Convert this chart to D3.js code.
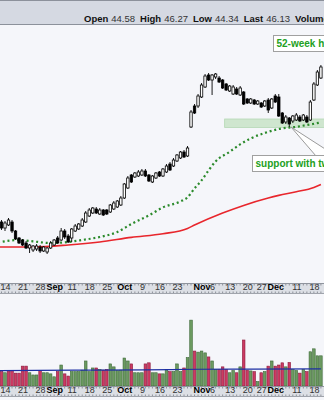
<!DOCTYPE html>
<html><head><meta charset="utf-8">
<script src="https://cdn.jsdelivr.net/npm/d3@7"></script>
<style>
html,body{margin:0;padding:0;background:#f5f6fa;overflow:hidden}
svg{display:block}
text{font-family:"Liberation Sans",Arial,sans-serif}
</style></head><body>
<svg id="c" width="324" height="400"></svg>
<script>
// ---- data ----
const dates = ["Aug 10","Aug 11","Aug 14","Aug 15","Aug 16","Aug 17","Aug 18","Aug 21","Aug 22","Aug 23","Aug 24","Aug 25",
"Aug 28","Aug 29","Aug 30","Aug 31","Sep 1","Sep 5","Sep 6","Sep 7","Sep 8","Sep 11","Sep 12","Sep 13","Sep 14","Sep 15",
"Sep 18","Sep 19","Sep 20","Sep 21","Sep 22","Sep 25","Sep 26","Sep 27","Sep 28","Sep 29","Oct 2","Oct 3","Oct 4","Oct 5","Oct 6",
"Oct 9","Oct 10","Oct 11","Oct 12","Oct 13","Oct 16","Oct 17","Oct 18","Oct 19","Oct 20","Oct 23","Oct 24","Oct 25","Oct 26","Oct 27",
"Oct 30","Oct 31","Nov 1","Nov 2","Nov 3","Nov 6","Nov 7","Nov 8","Nov 9","Nov 10","Nov 13","Nov 14","Nov 15","Nov 16","Nov 17",
"Nov 20","Nov 21","Nov 22","Nov 24","Nov 27","Nov 28","Nov 29","Nov 30","Dec 1","Dec 4","Dec 5","Dec 6","Dec 7","Dec 8",
"Dec 11","Dec 12","Dec 13","Dec 14","Dec 15","Dec 18","Dec 19","Dec 20"];

const opens = [38.37,38.47,38.17,38.32,38.47,38.02,37.67,37.57,37.42,37.17,37.07,37.12,37.22,37.02,36.97,37.17,37.32,37.67,37.57,38.02,
37.77,37.67,38.02,38.12,38.27,38.47,38.77,38.92,39.12,38.87,39.07,39.07,38.97,39.12,39.22,39.32,39.67,40.17,40.82,40.72,
40.77,40.82,41.02,40.82,40.47,40.67,40.97,40.77,40.97,41.37,41.27,41.52,41.67,41.97,41.77,43.22,44.27,44.27,44.72,45.22,
45.82,45.57,45.72,45.67,45.57,45.37,45.02,44.87,45.12,44.82,44.97,44.62,44.42,44.57,44.37,44.42,44.27,44.57,44.17,44.77,
44.72,43.92,43.47,43.67,43.52,43.57,43.72,43.57,43.72,43.57,44.57,45.32,45.67];
const highs = [38.47,38.57,38.52,38.67,38.57,38.07,37.72,37.62,37.52,37.37,37.32,37.37,37.32,37.27,37.22,37.52,37.62,37.77,38.17,38.12,
37.87,38.17,38.37,38.42,38.67,39.02,39.17,39.22,39.22,39.17,39.12,39.12,39.37,39.52,39.57,39.77,40.42,40.77,40.87,40.97,
41.07,41.12,41.12,40.87,40.82,40.97,41.02,41.17,41.37,41.47,41.67,41.87,42.02,42.07,42.27,44.07,44.37,44.87,45.42,45.87,
45.92,45.87,45.92,45.77,45.62,45.42,45.32,45.32,45.22,45.27,45.02,44.67,44.67,44.62,44.57,44.47,44.57,44.67,44.67,44.87,
44.87,43.97,43.82,43.72,43.82,43.92,43.82,43.87,43.82,44.57,45.47,46.07,46.32];
const lows = [38.02,38.07,38.02,38.27,37.92,37.57,37.37,37.27,37.12,36.92,36.97,37.02,36.92,36.97,36.87,37.12,37.27,37.37,37.52,37.62,
37.42,37.47,37.97,38.07,38.22,38.42,38.72,38.87,38.87,38.82,38.77,38.82,38.92,39.07,39.17,39.27,39.62,40.12,40.42,40.67,
40.72,40.77,40.72,40.47,40.42,40.62,40.72,40.72,40.92,41.02,41.22,41.47,41.62,41.67,41.72,43.17,43.87,44.17,44.67,45.17,
45.52,44.82,45.62,45.42,45.12,45.02,44.97,44.82,44.82,44.77,44.32,44.37,44.37,44.32,44.32,44.17,44.22,43.92,44.12,44.42,
43.72,43.37,43.37,43.22,43.42,43.52,43.47,43.52,43.42,43.52,44.52,45.27,45.62];
const closes = [38.12,38.17,38.42,38.57,38.02,37.62,37.42,37.32,37.17,37.32,37.27,37.27,37.02,37.22,37.17,37.42,37.57,37.42,38.02,37.72,
37.47,38.12,38.27,38.37,38.57,38.92,39.07,39.17,38.92,39.07,38.82,38.87,39.32,39.42,39.52,39.67,40.37,40.67,40.47,40.92,
40.97,41.02,40.77,40.52,40.77,40.92,40.77,41.12,41.27,41.07,41.57,41.82,41.97,41.72,42.17,43.97,43.92,44.77,45.32,45.77,
45.57,45.82,45.87,45.47,45.17,45.07,45.27,45.22,44.87,45.17,44.37,44.42,44.62,44.37,44.52,44.22,44.52,44.07,44.62,44.47,
43.77,43.42,43.72,43.37,43.77,43.82,43.52,43.82,43.47,44.47,45.37,45.97,46.22];
const volumes = [3.8,3.9,3.6,4.2,4.2,3.5,3.5,5.4,5.4,3.6,3.0,3.0,4.2,3.6,3.6,3.3,2.5,3.9,5.7,3.3,
2.7,3.9,3.9,3.9,4.3,6.8,3.9,4.9,4.9,4.5,4.3,4.5,6.0,5.2,4.2,4.3,7.6,6.8,6.0,3.6,
3.6,3.6,6.0,6.3,3.6,3.6,3.3,3.3,4.5,3.9,3.9,6.0,3.9,4.9,7.7,17.9,9.5,9.2,9.5,9.0,
7.9,6.8,4.5,4.5,5.2,4.5,3.6,4.2,3.6,5.2,12.5,4.3,4.1,3.9,1.2,3.6,3.9,5.4,6.8,5.4,
5.7,6.3,5.2,6.4,4.5,4.2,3.5,4.5,3.9,9.3,10.1,8.2,8.2];
const volDir = ["r","r","g","r","r","r","r","r","r","g","g","g","r","g","g","g","g","r","g","r",
"r","g","g","g","g","g","g","g","r","g","r","r","g","g","g","g","g","g","r","g",
"g","g","r","r","g","g","r","g","g","r","g","g","g","r","g","g","r","g","g","g",
"r","g","g","r","r","r","g","g","r","g","r","r","g","r","g","r","g","r","g","r",
"r","r","g","r","g","g","r","g","r","g","g","g","g"];

// moving averages (read at selected dates)
const ma50Dates = ["Aug 10","Aug 18","Aug 24","Aug 31","Sep 8","Sep 14","Sep 21","Sep 28","Oct 4","Oct 11","Oct 17","Oct 24","Oct 26","Oct 30","Nov 1","Nov 3","Nov 7","Nov 13","Nov 16","Nov 21","Nov 28","Dec 4","Dec 11","Dec 15","Dec 20"];
const ma50 = [37.45,37.57,37.50,37.42,37.47,37.57,37.72,37.97,38.37,38.80,39.20,39.50,39.70,40.15,40.55,41.05,41.50,41.98,42.35,42.65,42.92,43.12,43.23,43.35,43.45];
const ma200Dates = ["Aug 10","Aug 24","Sep 8","Sep 21","Oct 4","Oct 17","Oct 26","Oct 30","Nov 9","Nov 17","Nov 29","Dec 4","Dec 11","Dec 18","Dec 20"];
const ma200 = [37.22,37.22,37.32,37.47,37.70,37.88,38.15,38.32,38.92,39.30,39.67,39.80,39.98,40.20,40.35];
const volMaDates = ["Aug 10","Sep 12","Oct 10","Oct 31","Nov 21","Dec 20"];
const volMa = [4.2,4.3,4.4,4.55,4.6,4.65];

const tickDates = ["Aug 14","Aug 21","Aug 28","Sep 1","Sep 11","Sep 18","Sep 25","Oct 2","Oct 9","Oct 16","Oct 23","Nov 1","Nov 6","Nov 13","Nov 20","Nov 27","Dec 1","Dec 11","Dec 18"];
const tickText = ["14","21","28","Sep","11","18","25","Oct","9","16","23","Nov","6","13","20","27","Dec","11","18"];
const monthTicks = ["Sep","Oct","Nov","Dec"];

const header = [["Open","44.58"],["High","46.27"],["Low","44.34"],["Last","46.13"],["Volume","9.2M"]];
const supportRange = [43.2, 43.62];
const supportStart = "Nov 13";

// ---- layout ----
const W = 324, H = 400;
const P = {top:25, bottom:283};
const V = {top:294, bottom:386};
const svg = d3.select("#c");

const x = d3.scalePoint().domain(dates).range([-2.02, 320.9]);
const y = d3.scaleLinear().domain([35.42, 48.32]).range([P.bottom, P.top]);
const yv = d3.scaleLinear().domain([0, 25]).range([V.bottom, V.top]);

// backgrounds
svg.append("rect").attr("x",0).attr("y",0).attr("width",W).attr("height",H).attr("fill","#f5f6fa");
svg.append("rect").attr("x",0).attr("y",0).attr("width",W).attr("height",24).attr("fill","#d5d9e2");
svg.append("line").attr("x1",0).attr("x2",W).attr("y1",0.5).attr("y2",0.5).attr("stroke","#8c919b");
svg.append("line").attr("x1",0).attr("x2",W).attr("y1",24.5).attr("y2",24.5).attr("stroke","#8c919b");

// header text
const ht = svg.append("text").attr("x",84).attr("y",21.5).attr("font-size",9.5).attr("fill","#111");
header.forEach((h,i)=>{
  ht.append("tspan").attr("dx", i===0?0:5).attr("font-weight","bold").text(h[0]);
  ht.append("tspan").attr("dx",3).attr("fill","#333").text(h[1]);
});

// clip paths
const defs = svg.append("defs");
defs.append("clipPath").attr("id","pc").append("rect").attr("x",0).attr("y",P.top).attr("width",W).attr("height",P.bottom-P.top);
defs.append("clipPath").attr("id","vc").append("rect").attr("x",0).attr("y",V.top).attr("width",W).attr("height",V.bottom-V.top);

const pg = svg.append("g").attr("clip-path","url(#pc)");

// support zone
pg.append("rect").attr("x", x(supportStart)-5).attr("y", y(supportRange[1]))
  .attr("width", W).attr("height", y(supportRange[0]) - y(supportRange[1]))
  .attr("fill","#cfe6cf").attr("stroke","#b4d8b4").attr("stroke-width",0.8);

// moving averages
const line = d3.line().curve(d3.curveMonotoneX);
pg.append("path").attr("d", line(ma200Dates.map((d,i)=>[x(d), y(ma200[i])])))
  .attr("fill","none").attr("stroke","#e8262c").attr("stroke-width",1.6);
pg.append("path").attr("d", line(ma50Dates.map((d,i)=>[x(d), y(ma50[i])])))
  .attr("fill","none").attr("stroke","#2b8a2b").attr("stroke-width",2.2).attr("stroke-dasharray","2,2.8");

// candles
const cw = 2.4;
const cg = pg.append("g");
dates.forEach((d,i)=>{
  const cx = x(d);
  const up = closes[i] >= opens[i];
  cg.append("line").attr("x1",cx).attr("x2",cx).attr("y1",y(highs[i])).attr("y2",y(lows[i]))
    .attr("stroke","#000").attr("stroke-width",0.9);
  const top = y(Math.max(opens[i],closes[i])), bot = y(Math.min(opens[i],closes[i]));
  cg.append("rect").attr("x",cx-cw/2).attr("y",top).attr("width",cw).attr("height",Math.max(bot-top,0.8))
    .attr("fill", up ? "#fff" : "#000").attr("stroke","#000").attr("stroke-width",0.8);
});

// callout pointer + labels
pg.append("path").attr("d","M291,127 L316,156 L336,156 Z").attr("fill","#fff").attr("stroke","#9a9a9a").attr("stroke-width",1);
function box(bx, by, bw, bh, txt){
  pg.append("rect").attr("x",bx).attr("y",by).attr("width",bw).attr("height",bh)
    .attr("fill","#fff").attr("stroke","#a0a0a0").attr("stroke-width",1);
  pg.append("text").attr("x",bx+3).attr("y",by+bh-4.5).attr("font-size",10).attr("font-weight","bold")
    .attr("fill","#22a022").text(txt);
}
box(273.5, 35.5, 80, 16, "52-week high");
box(252.5, 155.5, 110, 16, "support with two lows");

// axis bands
function axisBand(y0, y1){
  svg.append("rect").attr("x",0).attr("y",y0).attr("width",W).attr("height",y1-y0).attr("fill","#dcdfe5");
  svg.append("line").attr("x1",0).attr("x2",W).attr("y1",y0+0.5).attr("y2",y0+0.5).attr("stroke","#8f949d");
  svg.append("line").attr("x1",0).attr("x2",W).attr("y1",y1-0.5).attr("y2",y1-0.5).attr("stroke","#a0a4ac");
  const tg = svg.append("g");
  dates.forEach(d=>{
    tg.append("line").attr("x1",x(d)).attr("x2",x(d)).attr("y1",y0+1).attr("y2",y0+2.5).attr("stroke","#7a7f88").attr("stroke-width",0.8);
    tg.append("line").attr("x1",x(d)).attr("x2",x(d)).attr("y1",y1-2.5).attr("y2",y1-1).attr("stroke","#7a7f88").attr("stroke-width",0.8);
  });
  const ax = d3.axisBottom(x).tickValues(tickDates).tickSize(0).tickPadding(0)
    .tickFormat((d)=>tickText[tickDates.indexOf(d)]);
  const g = svg.append("g").attr("transform",`translate(0,${y1-10.5})`).call(ax);
  g.select(".domain").remove();
  g.selectAll("text").attr("font-size",9).attr("font-family","Liberation Sans, Arial, sans-serif")
    .attr("fill","#333").attr("dy","0.71em")
    .attr("font-weight", t=>monthTicks.includes(tickText[tickDates.indexOf(t)]) ? "bold" : "normal")
    .attr("fill", t=>monthTicks.includes(tickText[tickDates.indexOf(t)]) ? "#000" : "#333");
}
axisBand(283, 294);

// volume
const vg = svg.append("g").attr("clip-path","url(#vc)");
const bw = 2.6;
dates.forEach((d,i)=>{
  const g = volDir[i]==="g";
  vg.append("rect").attr("x",x(d)-bw/2).attr("y",yv(volumes[i])).attr("width",bw)
    .attr("height",V.bottom - yv(volumes[i]))
    .attr("fill", g ? "#6b9a60" : "#cc3a62").attr("stroke", g ? "#3e6a38" : "#8c1c3e").attr("stroke-width",0.6);
});
vg.append("path").attr("d", line(volMaDates.map((d,i)=>[x(d), yv(volMa[i])])))
  .attr("fill","none").attr("stroke","#1d2fa3").attr("stroke-width",1.2);

axisBand(386, 397);
</script>
</body></html>
